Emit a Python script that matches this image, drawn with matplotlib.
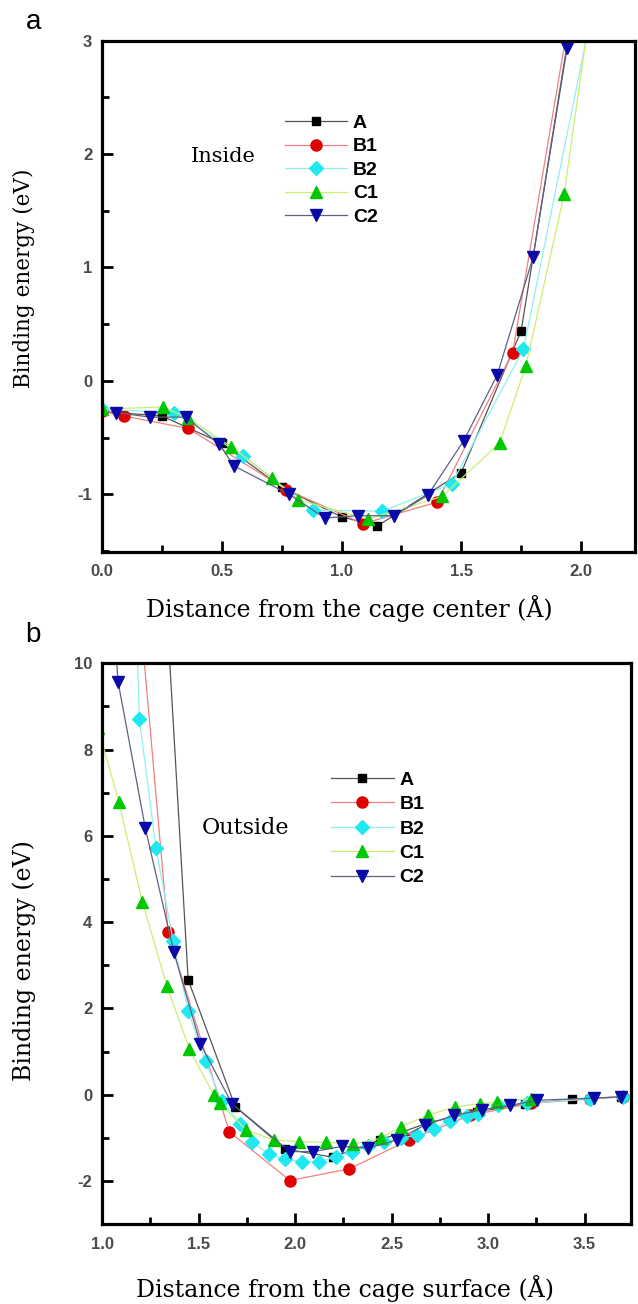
import matplotlib
matplotlib.use("Agg")
import matplotlib.pyplot as plt
from matplotlib.ticker import MultipleLocator

# panel a: inside the cage
in_A_x = [0.0, 0.25, 0.5, 0.75, 1.0, 1.15, 1.5, 1.75, 1.97]
in_A_y = [-0.27, -0.31, -0.55, -0.94, -1.20, -1.28, -0.81, 0.44, 3.3]
in_B1_x = [0.0, 0.09, 0.36, 0.77, 1.09, 1.40, 1.715, 1.95]
in_B1_y = [-0.27, -0.31, -0.42, -0.96, -1.26, -1.07, 0.25, 3.2]
in_B2_x = [0.0, 0.30, 0.59, 0.88, 1.17, 1.46, 1.76, 2.05]
in_B2_y = [-0.25, -0.28, -0.66, -1.14, -1.15, -0.91, 0.28, 3.3]
in_C1_x = [0.0, 0.254, 0.36, 0.54, 0.71, 0.82, 1.11, 1.42, 1.66, 1.77, 1.93, 2.05]
in_C1_y = [-0.25, -0.23, -0.33, -0.58, -0.86, -1.05, -1.22, -1.02, -0.55, 0.13, 1.65, 3.45]
in_C2_x = [0.058, 0.20, 0.35, 0.49, 0.55, 0.78, 0.93, 1.07, 1.22, 1.36, 1.51, 1.65, 1.80, 1.94]
in_C2_y = [-0.28, -0.32, -0.32, -0.56, -0.75, -1.0, -1.21, -1.19, -1.19, -1.01, -0.53, 0.05, 1.09, 2.94]

# panel b: outside the cage
out_A_x = [1.325, 1.446, 1.69, 1.948, 2.194, 2.44, 2.69, 2.94, 3.192, 3.434, 3.687]
out_A_y = [12.0, 2.66, -0.28, -1.26, -1.45, -1.05, -0.65, -0.40, -0.21, -0.11, -0.05]
out_B1_x = [1.18, 1.342, 1.659, 1.973, 2.281, 2.59, 2.907, 3.22, 3.53, 3.70]
out_B1_y = [12.0, 3.76, -0.86, -1.99, -1.72, -1.05, -0.48, -0.20, -0.10, -0.05]
out_B2_x = [1.17, 1.193, 1.279, 1.368, 1.446, 1.536, 1.62, 1.716, 1.779, 1.863, 1.95,
            2.036, 2.123, 2.21, 2.296, 2.38, 2.46, 2.55, 2.633, 2.72, 2.80, 2.89, 2.949,
            3.05, 3.20, 3.53, 3.70]
out_B2_y = [12.0, 8.72, 5.72, 3.57, 1.94, 0.77, -0.15, -0.67, -1.10, -1.38, -1.50,
            -1.55, -1.55, -1.45, -1.32, -1.20, -1.10, -1.00, -0.94, -0.80, -0.60, -0.50, -0.44,
            -0.25, -0.20, -0.09, -0.05]
out_C1_x = [0.98, 1.087, 1.209, 1.336, 1.452, 1.579, 1.61, 1.747, 1.889, 2.021, 2.159,
            2.30, 2.443, 2.549, 2.686, 2.83, 2.96, 3.044, 3.22]
out_C1_y = [8.5, 6.78, 4.46, 2.52, 1.06, -0.01, -0.20, -0.82, -1.05, -1.09, -1.10,
            -1.15, -1.01, -0.74, -0.48, -0.28, -0.21, -0.17, -0.09]
out_C2_x = [1.06, 1.083, 1.224, 1.372, 1.509, 1.673, 1.973, 2.095, 2.243, 2.38, 2.527,
            2.671, 2.823, 2.97, 3.114, 3.255, 3.55, 3.687]
out_C2_y = [11.0, 9.57, 6.18, 3.30, 1.18, -0.21, -1.32, -1.32, -1.20, -1.24, -1.05,
            -0.71, -0.48, -0.35, -0.25, -0.13, -0.08, -0.05]

labels = ["A", "B1", "B2", "C1", "C2"]
# (marker, face colour, line colour, marker size)
styles = [
    ("s", "black", "#555555", 6),
    ("o", "#e00000", "#f08080", 8),
    ("D", "#20e8f0", "#90f0f0", 7),
    ("^", "#00c800", "#c8f070", 8),
    ("v", "#0a0aa8", "#606080", 8),
]

serif = ["DejaVu Serif"]
sans = ["Liberation Sans", "DejaVu Sans"]
tick_col = "#4a4a4a"


def draw_panel(ax, series):
    for (x, y), lab, (m, fc, lc, ms) in zip(series, labels, styles):
        ax.plot(x, y, color=lc, lw=0.9, marker=m, ms=ms, mfc=fc, mec=fc,
                label=lab)
    for s in ax.spines.values():
        s.set_linewidth(2.3)
    ax.tick_params(which="both", direction="in", width=2, colors="black",
                   labelcolor=tick_col, top=False, right=False)
    ax.tick_params(which="major", length=8)
    ax.tick_params(which="minor", length=5)
    ax.tick_params(axis="x", which="major", pad=9)
    ax.tick_params(axis="y", which="major", pad=7)


def style_ticklabels(ax):
    for t in ax.get_xticklabels() + ax.get_yticklabels():
        t.set_fontfamily(sans)
        t.set_fontweight("bold")
        t.set_fontsize(12)


fig = plt.figure(figsize=(6.38, 13.04), dpi=100)

ax1 = fig.add_axes([0.160, 0.5767, 0.835, 0.392])
draw_panel(ax1, [(in_A_x, in_A_y), (in_B1_x, in_B1_y), (in_B2_x, in_B2_y),
                 (in_C1_x, in_C1_y), (in_C2_x, in_C2_y)])
ax1.set_xlim(0, 2.225)
ax1.set_ylim(-1.51, 3)
ax1.xaxis.set_minor_locator(MultipleLocator(0.25))
ax1.yaxis.set_minor_locator(MultipleLocator(0.5))
ax1.set_xticks([0.0, 0.5, 1.0, 1.5, 2.0])
ax1.set_xticklabels(["0.0", "0.5", "1.0", "1.5", "2.0"])
ax1.set_yticks([-1, 0, 1, 2, 3])
ax1.set_yticklabels(["-1", "0", "1", "2", "3"])
style_ticklabels(ax1)
ax1.set_xlabel("Distance from the cage center (Å)", family=serif, fontsize=17)
ax1.set_ylabel("Binding energy (eV)", family=serif, fontsize=15.5)
ax1.xaxis.set_label_coords(0.465, -0.085)
ax1.yaxis.set_label_coords(-0.125, 0.535)
ax1.text(0.167, 0.773, "Inside", transform=ax1.transAxes, family=serif,
         fontsize=15, va="center")
ax1.legend(loc="upper left", bbox_to_anchor=(0.325, 0.875), frameon=False,
           prop={"family": sans, "weight": "bold", "size": 14},
           handlelength=3.2, handletextpad=0.3, labelspacing=0.3, borderpad=0)
fig.text(0.04, 0.983, "a", family=sans, fontsize=20, va="center")

ax2 = fig.add_axes([0.160, 0.0613, 0.829, 0.430])
draw_panel(ax2, [(out_A_x, out_A_y), (out_B1_x, out_B1_y), (out_B2_x, out_B2_y),
                 (out_C1_x, out_C1_y), (out_C2_x, out_C2_y)])
ax2.set_xlim(1.0, 3.74)
ax2.set_ylim(-3, 10)
ax2.xaxis.set_minor_locator(MultipleLocator(0.25))
ax2.yaxis.set_minor_locator(MultipleLocator(1))
ax2.set_xticks([1.0, 1.5, 2.0, 2.5, 3.0, 3.5])
ax2.set_xticklabels(["1.0", "1.5", "2.0", "2.5", "3.0", "3.5"])
ax2.set_yticks([-2, 0, 2, 4, 6, 8, 10])
ax2.set_yticklabels(["-2", "0", "2", "4", "6", "8", "10"])
style_ticklabels(ax2)
ax2.set_xlabel("Distance from the cage surface (Å)", family=serif, fontsize=17)
ax2.set_ylabel("Binding energy (eV)", family=serif, fontsize=17)
ax2.xaxis.set_label_coords(0.46, -0.09)
ax2.yaxis.set_label_coords(-0.125, 0.47)
ax2.text(0.189, 0.706, "Outside", transform=ax2.transAxes, family=serif,
         fontsize=16, va="center")
ax2.legend(loc="upper left", bbox_to_anchor=(0.415, 0.825), frameon=False,
           prop={"family": sans, "weight": "bold", "size": 14},
           handlelength=3.2, handletextpad=0.3, labelspacing=0.35, borderpad=0)
fig.text(0.04, 0.513, "b", family=sans, fontsize=20, va="center")

fig.savefig("out.png", dpi=100)
